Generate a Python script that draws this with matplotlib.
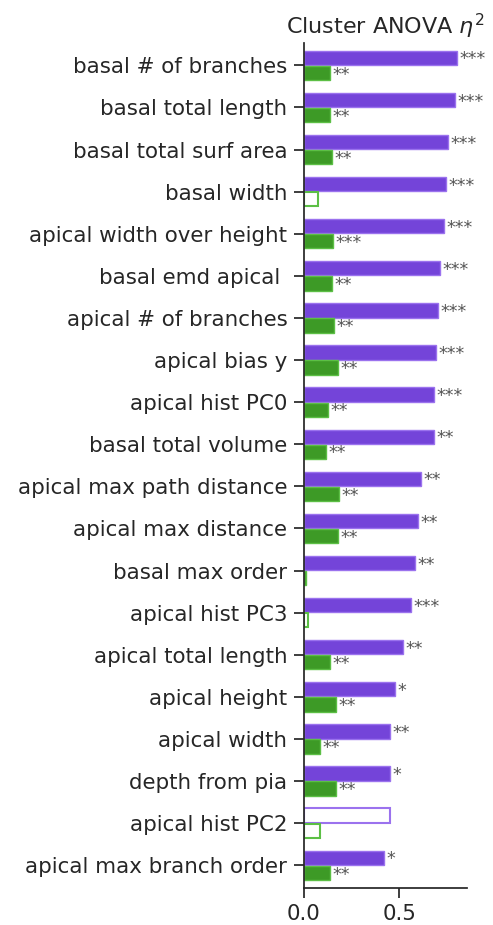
import matplotlib
matplotlib.use("Agg")
import matplotlib.pyplot as plt
import numpy as np

features = [
    "basal # of branches", "basal total length", "basal total surf area", "basal width",
    "apical width over height", "basal emd apical ", "apical # of branches", "apical bias y",
    "apical hist PC0", "basal total volume", "apical max path distance", "apical max distance",
    "basal max order", "apical hist PC3", "apical total length", "apical height",
    "apical width", "depth from pia", "apical hist PC2", "apical max branch order",
]
eta_cluster = [0.803, 0.793, 0.755, 0.742, 0.734, 0.713, 0.702, 0.692, 0.681, 0.681,
               0.612, 0.599, 0.580, 0.561, 0.519, 0.479, 0.450, 0.450, 0.450, 0.420]
eta_other = [0.136, 0.136, 0.146, 0.072, 0.153, 0.145, 0.155, 0.176, 0.124, 0.113,
             0.185, 0.176, 0.011, 0.021, 0.136, 0.166, 0.083, 0.166, 0.083, 0.136]
sig_cluster = ["***", "***", "***", "***", "***", "***", "***", "***", "***", "**",
               "**", "**", "**", "***", "**", "*", "**", "*", "", "*"]
sig_other = ["**", "**", "**", "", "***", "**", "**", "**", "**", "**",
             "**", "**", "", "", "**", "**", "**", "**", "", "**"]
filled_cluster = [True] * 18 + [False, True]
filled_other = [True, True, True, False] + [True] * 8 + [True, False] + [True] * 4 + [False, True]

purple = "#7444d9"
purple_edge = "#9b72ee"
green = "#3d9a26"
green_edge = "#5cbf45"
star_color = "#555555"

fig = plt.figure(figsize=(4.93, 9.25), dpi=100)
ax = fig.add_axes([0.6166, 0.04, 0.3304, 0.9135])

y = np.arange(len(features))
h = 0.34
off = 0.18

for i in range(len(features)):
    if filled_cluster[i]:
        ax.barh(y[i] - off, eta_cluster[i], height=h, color=purple, edgecolor=purple_edge, linewidth=1)
    else:
        ax.barh(y[i] - off, eta_cluster[i], height=h, color="white", edgecolor=purple_edge, linewidth=1.5)
    if filled_other[i]:
        ax.barh(y[i] + off, eta_other[i], height=h, color=green, edgecolor=green_edge, linewidth=1)
    else:
        ax.barh(y[i] + off, eta_other[i], height=h, color="white", edgecolor=green_edge, linewidth=1.5)
    if sig_cluster[i]:
        ax.annotate(sig_cluster[i], (eta_cluster[i], y[i] - off), xytext=(1.8, -1.2),
                    textcoords="offset points", ha="left", va="center",
                    fontsize=12.5, color=star_color)
    if sig_other[i]:
        ax.annotate(sig_other[i], (eta_other[i], y[i] + off), xytext=(1.8, -1.2),
                    textcoords="offset points", ha="left", va="center",
                    fontsize=12.5, color=star_color)

ax.set_yticks(y)
ax.set_yticklabels(features)
ax.set_ylim(len(features) - 0.46, -0.53)
ax.set_xlim(0, 0.854)
ax.set_xticks([0.0, 0.5])
ax.set_xticklabels(["0.0", "0.5"])
ax.set_title(r"Cluster ANOVA $\eta^2$", fontsize=16, color="#262626", pad=6)

for s in ["top", "right"]:
    ax.spines[s].set_visible(False)
for s in ["left", "bottom"]:
    ax.spines[s].set_color("#262626")
    ax.spines[s].set_linewidth(1.25)
ax.tick_params(axis="both", labelsize=15.4, colors="#262626", length=7.5, width=1.25)
ax.tick_params(axis="y", pad=4.5)
ax.tick_params(axis="x", pad=4)

fig.savefig("out.png", dpi=100)
